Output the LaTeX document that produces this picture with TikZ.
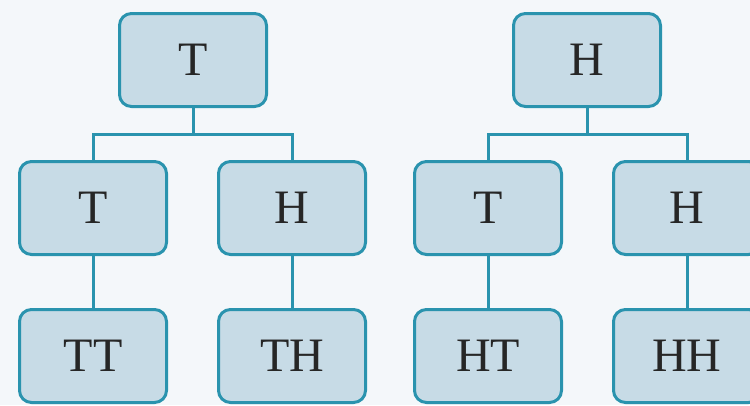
\documentclass[tikz,border=0pt]{standalone}
\usepackage{fontspec}
\setmainfont{Liberation Serif}
\usepackage{tikz}
\usetikzlibrary{positioning, calc}
\definecolor{boxfill}{HTML}{C7DBE6}
\definecolor{boxline}{HTML}{2A93AE}
\definecolor{pagebg}{HTML}{F4F7FA}
\definecolor{lettercol}{HTML}{262626}

\begin{document}
\begin{tikzpicture}[x=1pt, y=-1pt]
		\tikzstyle{coinbox}=[draw=boxline, line width=3pt, rounded corners=12pt, minimum height=93pt, minimum width=147pt, fill=boxfill, text=lettercol, font=\fontsize{48}{52}\selectfont, inner sep=0pt]
		\tikzstyle{branch}=[draw=boxline, line width=3pt]
		
		\fill [pagebg] (0,0) rectangle (750,405);
		\useasboundingbox (0,0) rectangle (750,405);
		
		% first tree
		\node (r1) at (193,60) [coinbox] {T};
		\node (r1a) at (93,208) [coinbox] {T};
		\node (r1b) at (292,208) [coinbox] {H};
		\node (r1aa) at (93,356) [coinbox] {TT};
		\node (r1bb) at (292,356) [coinbox] {TH};
		
		% second tree
		\node (r2) at (587,60) [coinbox] {H};
		\node (r2a) at (488,208) [coinbox] {T};
		\node (r2b) at (687,208) [coinbox] {H};
		\node (r2aa) at (488,356) [coinbox] {HT};
		\node (r2bb) at (687,356) [coinbox] {HH};
		
		\coordinate (j1) at ($(r1.south)!0.5!(r1.south|-r1a.north)$);
		\coordinate (j2) at ($(r2.south)!0.5!(r2.south|-r2a.north)$);
		
		\draw [branch] (r1.south) -- (j1) -| (r1a.north);
		\draw [branch] (j1) -| (r1b.north);
		\draw [branch] (r1a) -- (r1aa);
		\draw [branch] (r1b) -- (r1bb);
		
		\draw [branch] (r2.south) -- (j2) -| (r2a.north);
		\draw [branch] (j2) -| (r2b.north);
		\draw [branch] (r2a) -- (r2aa);
		\draw [branch] (r2b) -- (r2bb);
		
\end{tikzpicture}
\end{document}
